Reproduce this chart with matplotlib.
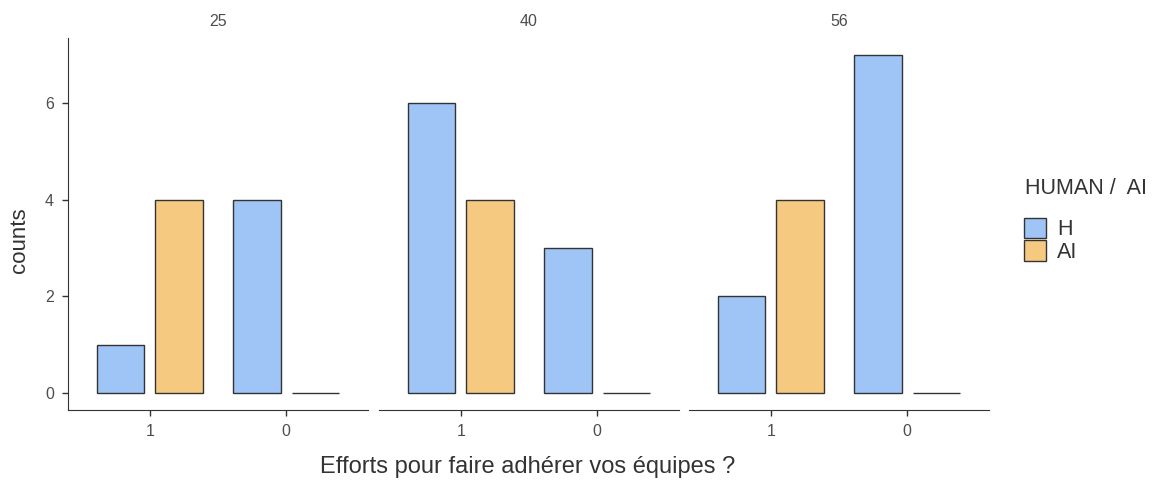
import matplotlib.pyplot as plt
from matplotlib.patches import Patch

# Data
panels = ["25", "40", "56"]
categories = ["1", "0"]
h_counts = [[1, 4], [6, 3], [2, 7]]
ai_counts = [[4, 0], [4, 0], [4, 0]]

blue = "#9EC5F6"
orange = "#F5CA80"
edge = "#333333"

plt.rcParams["font.family"] = ["Liberation Sans", "DejaVu Sans"]

fig = plt.figure(figsize=(11.69, 4.84), dpi=100)

pw = 300 / 1169
lefts = [68 / 1169, 379 / 1169, 689 / 1169]
bottom = 1 - 410 / 484
height = (410 - 38) / 484

xs = [1, 2]
off = 0.215
bw = 0.35

for i, name in enumerate(panels):
    ax = fig.add_axes([lefts[i], bottom, pw, height])
    ax.bar([x - off for x in xs], h_counts[i], width=bw, color=blue,
           edgecolor=edge, linewidth=1)
    ax.bar([x + off for x in xs], ai_counts[i], width=bw, color=orange,
           edgecolor=edge, linewidth=1)
    ax.set_xlim(0.4, 2.6)
    ax.set_ylim(-0.35, 7.35)
    ax.set_xticks(xs)
    ax.set_xticklabels(categories)
    ax.set_yticks([0, 2, 4, 6])
    for s in ["top", "right"]:
        ax.spines[s].set_visible(False)
    ax.spines["bottom"].set_color("#333333")
    ax.spines["left"].set_color("#333333")
    ax.tick_params(axis="both", colors="#333333", labelcolor="#4D4D4D",
                   labelsize=11.5, length=4, width=1, pad=6)
    if i > 0:
        ax.spines["left"].set_visible(False)
        ax.tick_params(axis="y", left=False, labelleft=False)
    ax.set_title(name, fontsize=11.5, color="#4D4D4D", pad=9)

fig.text(528 / 1169, 1 - 467 / 484, "Efforts pour faire adhérer vos équipes ?",
         ha="center", va="center", fontsize=17, color="#333333")
fig.text(20 / 1169, 1 - 240 / 484, "counts", rotation=90,
         ha="center", va="center", fontsize=16, color="#333333")

# legend
fig.text(1025 / 1169, 1 - 189 / 484, "HUMAN /  AI", ha="left", va="center",
         fontsize=15.5, color="#333333")
handles = [Patch(facecolor=blue, edgecolor=edge, linewidth=1, label="H"),
           Patch(facecolor=orange, edgecolor=edge, linewidth=1, label="AI")]
fig.legend(handles=handles, loc="upper left",
           bbox_to_anchor=(1015 / 1169, 1 - 209 / 484), frameon=False,
           fontsize=15.5, handlelength=1.05, handleheight=1.1,
           labelspacing=0, handletextpad=0.5, borderaxespad=0,
           labelcolor="#333333")

fig.savefig("out.png", dpi=100)
